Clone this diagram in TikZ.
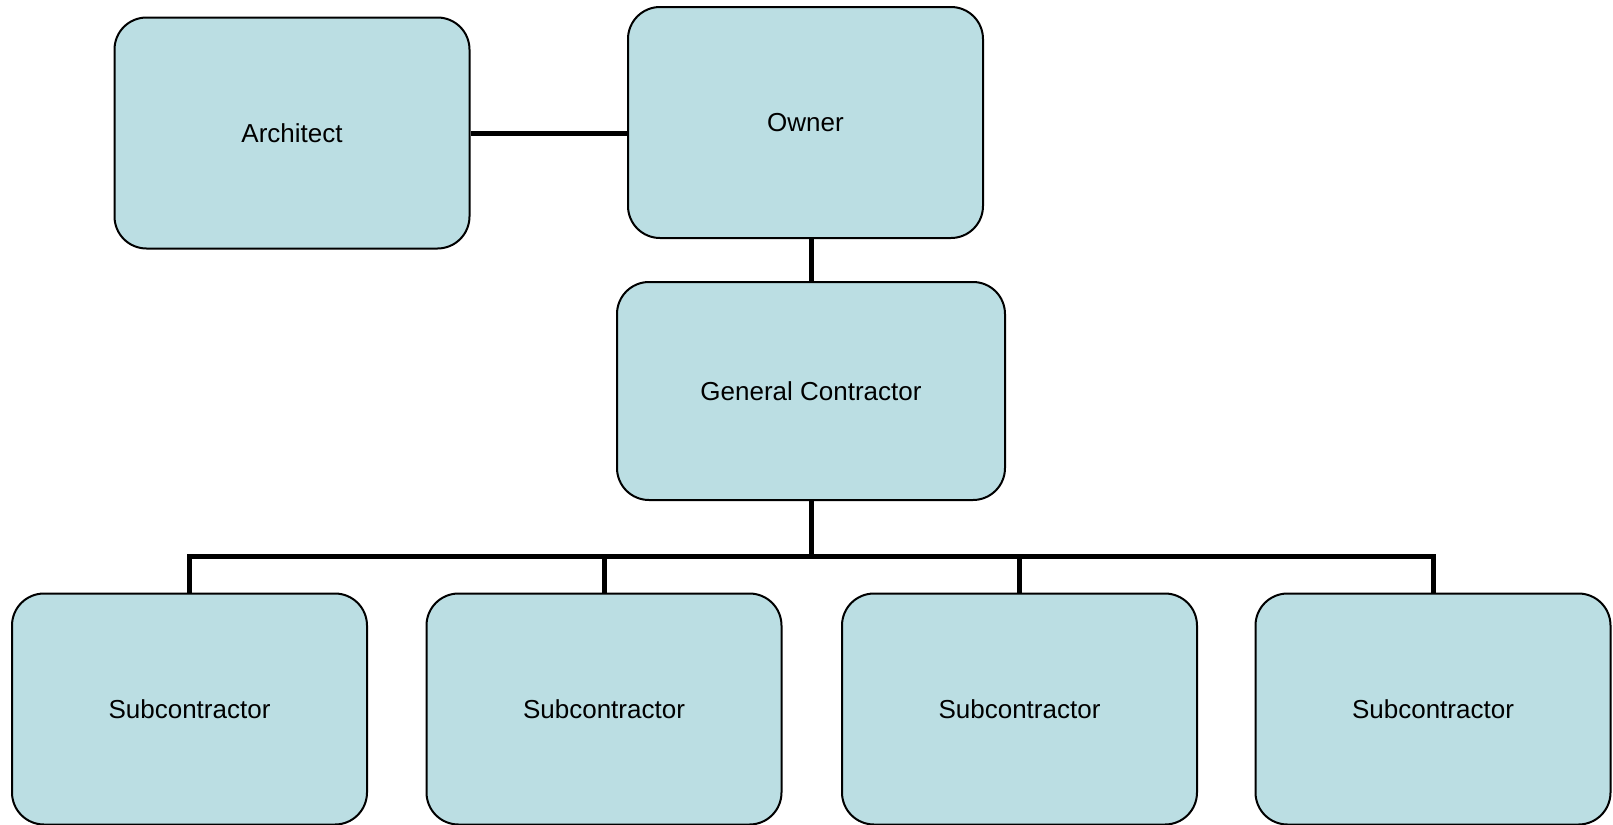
\documentclass[tikz,border=0pt]{standalone}
\usepackage{fontspec}
\setmainfont{Liberation Sans}
\usepackage{tikz}
\usetikzlibrary{positioning, calc}

\definecolor{boxblue}{RGB}{187,222,227}

\tikzset{
  orgbox/.style={draw, line width=1pt, fill=boxblue, rounded corners=16pt,
    minimum width=177.5pt, minimum height=115.5pt, font=\fontsize{13}{15}\selectfont},
  conn/.style={line width=2.5pt}
}

\begin{document}
\begin{tikzpicture}[x=0.5pt, y=-0.5pt]
\useasboundingbox (0,0) rectangle (1613,825);

\node[orgbox] (architect) at (292,133) {Architect};
\node[orgbox] (owner) at (805.5,122.5) {Owner};
\node[orgbox, minimum width=194pt, minimum height=109pt] (gc) at (811,391) {General Contractor};

\node[orgbox] (sub1) at (189.5,709) {Subcontractor};
\node[orgbox] (sub2) at (604,709) {Subcontractor};
\node[orgbox] (sub3) at (1019.5,709) {Subcontractor};
\node[orgbox] (sub4) at (1433,709) {Subcontractor};

\coordinate (bus) at (811,556);

\draw[conn] (architect.east |- 0,133) -- (owner.west |- 0,133);
\draw[conn] (owner.south -| gc.north) -- (gc.north);
\draw[conn] (gc.south) -- (bus);
\draw[conn] (sub1.north) |- (bus) -| (sub4.north);
\draw[conn] (sub2.north) -- (sub2.north |- bus);
\draw[conn] (sub3.north) -- (sub3.north |- bus);
\end{tikzpicture}
\end{document}
